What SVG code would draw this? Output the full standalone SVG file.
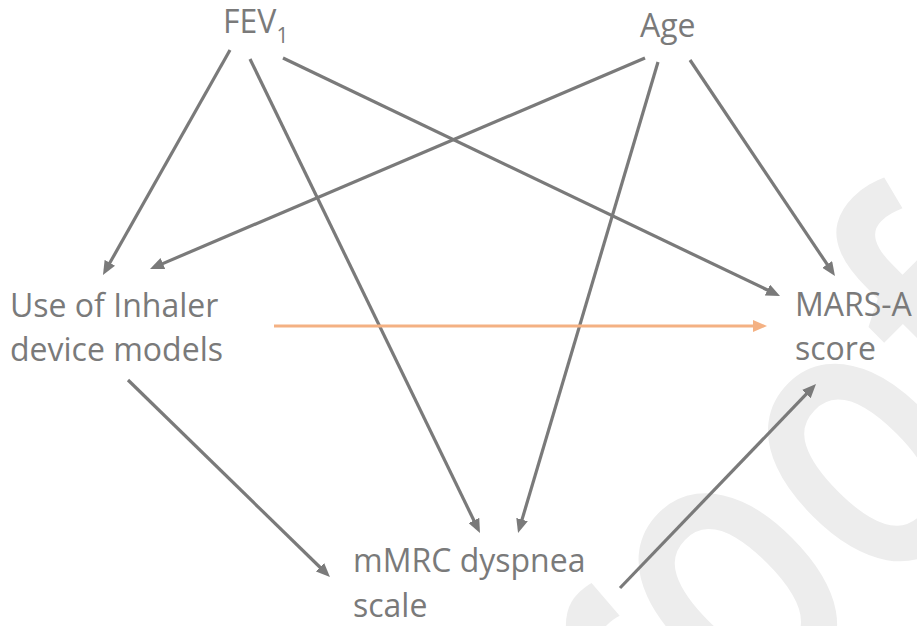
<svg xmlns="http://www.w3.org/2000/svg" width="917" height="626" viewBox="0 0 917 626">
<style>
.lbl{font-family:"Open Sans","Liberation Sans",sans-serif;font-size:32px;fill:#7a7a7a}
.sub{font-size:21px}
.edge{fill:none;stroke:#7a7a7a;stroke-width:3.2;marker-end:url(#ah)}
.edge-o{fill:none;stroke:#f4b183;stroke-width:3.2;marker-end:url(#aho)}
.wm{font-family:"Open Sans","Liberation Sans",sans-serif;font-weight:600;font-size:400px;fill:#ededed}
</style>
<defs>
<marker id="ah" viewBox="0 0 14 12" refX="4" refY="6" markerWidth="14" markerHeight="12" markerUnits="userSpaceOnUse" orient="auto"><path d="M0,0 L14,6 L0,12 z" fill="#7a7a7a"/></marker>
<marker id="aho" viewBox="0 0 14 12" refX="4" refY="6" markerWidth="14" markerHeight="12" markerUnits="userSpaceOnUse" orient="auto"><path d="M0,0 L14,6 L0,12 z" fill="#f4b183"/></marker>
</defs>
<rect width="917" height="626" fill="#ffffff"/>
<text class="wm" transform="translate(526,957) rotate(-45) scale(0.75,1)">proof</text>
<g id="connectors">
<path class="edge" d="M230,50 L107.9,266.3"/>
<path class="edge" d="M250,59 L475.6,524"/>
<path class="edge" d="M283,58 L771,291.7"/>
<path class="edge" d="M645,58 L159.2,265.1"/>
<path class="edge" d="M658,62 L520.9,523.4"/>
<path class="edge" d="M690,60 L829.4,267.7"/>
<path class="edge-o" d="M274,326 L757,326"/>
<path class="edge" d="M128,380 L322.8,570"/>
<path class="edge" d="M620,588 L809.1,391.2"/>
</g>
<g id="fev1"><text class="lbl" x="223" y="33">FEV<tspan class="sub" dy="10">1</tspan></text></g>
<g id="age"><text class="lbl" x="640" y="37">Age</text></g>
<g id="inhaler"><text class="lbl" x="10" y="317">Use of Inhaler</text><text class="lbl" x="10" y="361">device models</text></g>
<g id="mars"><text class="lbl" x="795" y="316">MARS-A</text><text class="lbl" x="795" y="360">score</text></g>
<g id="mmrc"><text class="lbl" x="353" y="572">mMRC dyspnea</text><text class="lbl" x="353" y="617">scale</text></g>
</svg>
